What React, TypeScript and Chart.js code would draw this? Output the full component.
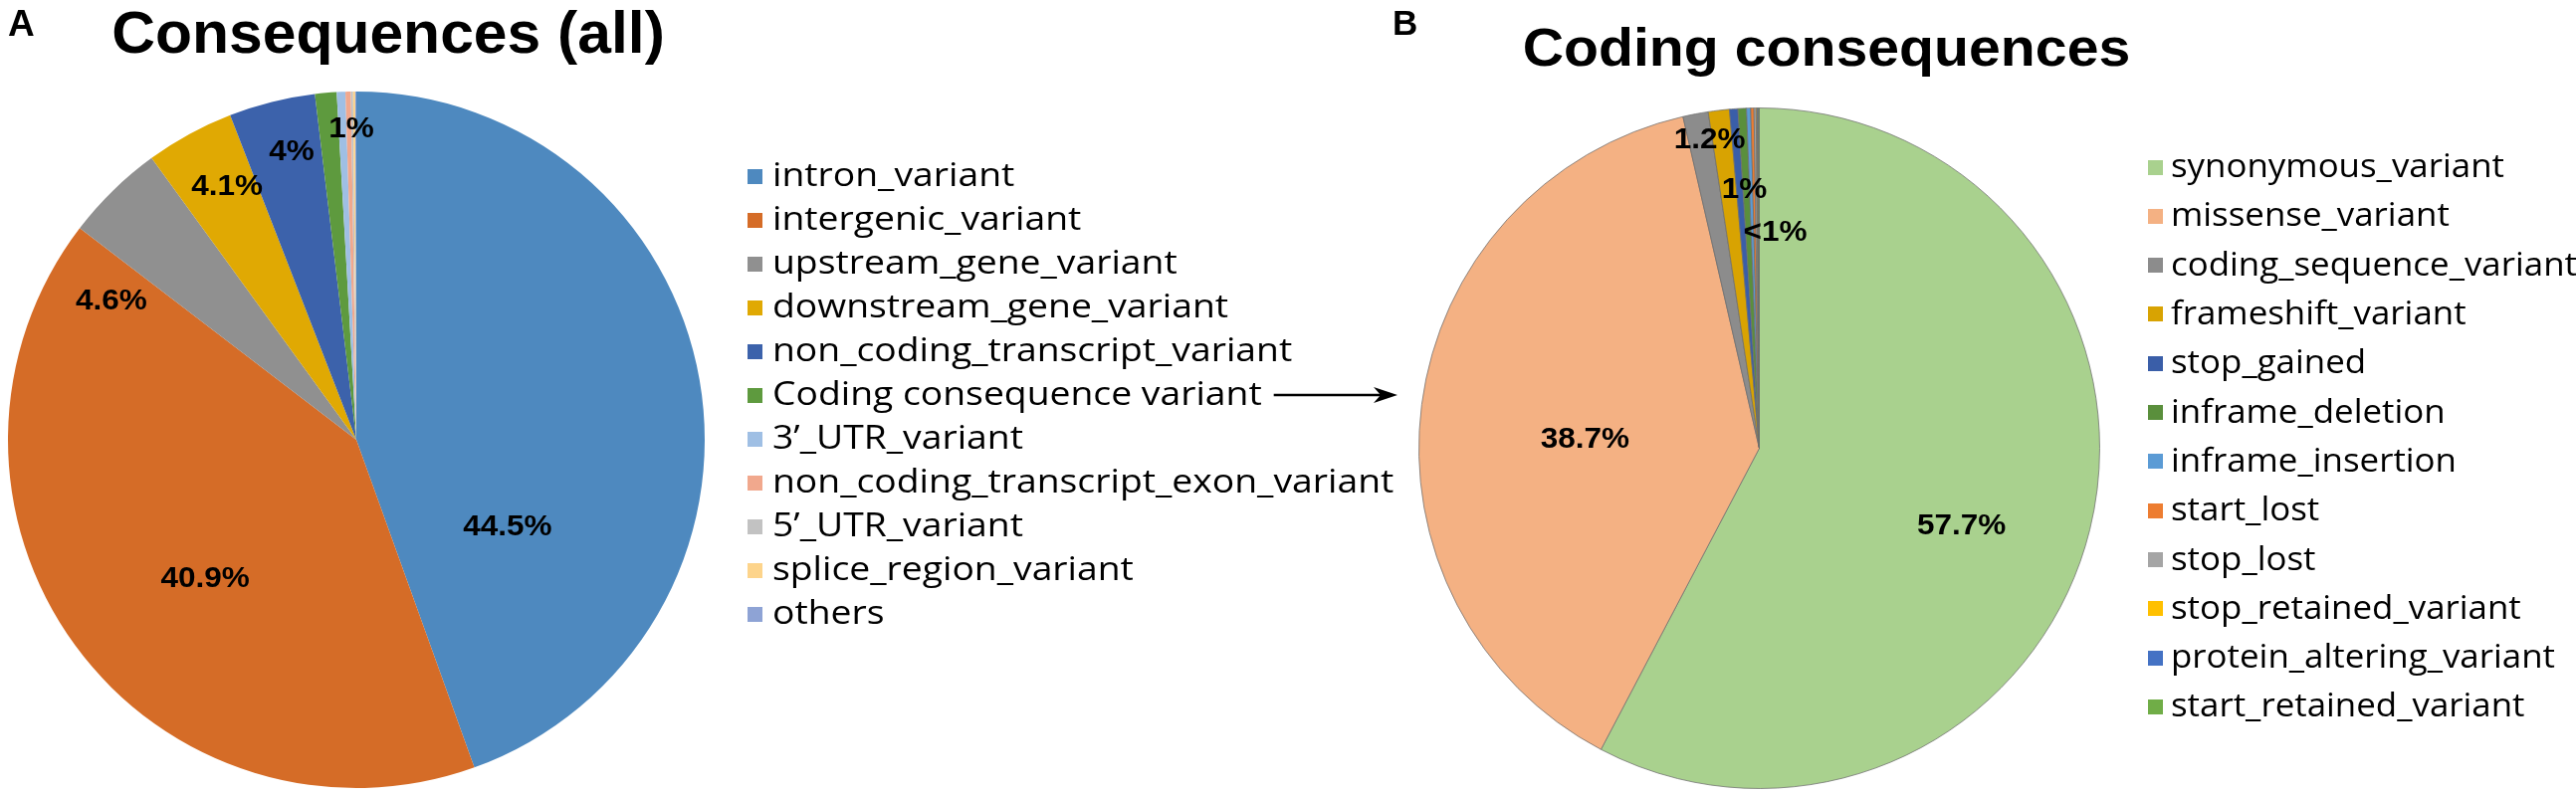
import React, { useEffect, useRef } from "react";
import { Chart, registerables } from "chart.js";

Chart.register(...registerables);

// ---------------- data ----------------
const categoriesA = [
  "intron_variant",
  "intergenic_variant",
  "upstream_gene_variant",
  "downstream_gene_variant",
  "non_coding_transcript_variant",
  "Coding consequence variant",
  "3’_UTR_variant",
  "non_coding_transcript_exon_variant",
  "5’_UTR_variant",
  "splice_region_variant",
  "others",
];
const valuesA = [44.5, 40.9, 4.6, 4.1, 4.0, 1.0, 0.4, 0.25, 0.1, 0.1, 0.05];
const sliceLabelsA = ["44.5%", "40.9%", "4.6%", "4.1%", "4%", "1%", "", "", "", "", ""];

const categoriesB = [
  "synonymous_variant",
  "missense_variant",
  "coding_sequence_variant",
  "frameshift_variant",
  "stop_gained",
  "inframe_deletion",
  "inframe_insertion",
  "start_lost",
  "stop_lost",
  "stop_retained_variant",
  "protein_altering_variant",
  "start_retained_variant",
];
const valuesB = [57.7, 38.7, 1.2, 1.0, 0.4, 0.4, 0.2, 0.15, 0.1, 0.05, 0.05, 0.05];
const sliceLabelsB = ["57.7%", "38.7%", "1.2%", "1%", "<1%", "", "", "", "", "", "", ""];

// ---------------- styles ----------------
const colorsA = [
  "#4e89bf", "#d56c27", "#909090", "#e0a903", "#3c62ab", "#5e9a3e",
  "#9fbfe4", "#f1a88d", "#c2c2c2", "#fdd48b", "#8ea3d5",
];
const colorsB = [
  "#a9d18e", "#f4b183", "#8c8c8c", "#d8a302", "#3a5ea8", "#5a8f3c",
  "#5b9bd5", "#ed7d31", "#a5a5a5", "#ffc000", "#4472c4", "#70ad47",
];

type Panel = {
  key: string;
  letter: string;
  letterX: number;
  letterY: number;
  letterSize: number;
  title: string;
  titleX: number;
  titleY: number;
  titleSize: number;
  titleScaleX: number;
  swatchX: number;
  textX: number;
  legendTop: number;
  legendStep: number;
  swatch: number;
  legendFont: number;
  legendScaleX: number;
  labelSize: number;
  labelOffsets: number[][];
  arrowRow: number;
  arrowEndX: number;
  left: number;
  width: number;
  padding: { left: number; top: number; right: number; bottom: number };
  borderWidth: number;
  borderColor: string;
};

const panelA: Panel = {
  key: "A",
  letter: "A",
  letterX: 8,
  letterY: 36,
  letterSize: 37,
  title: "Consequences (all)",
  titleX: 390,
  titleY: 53,
  titleSize: 60,
  titleScaleX: 1.01,
  swatchX: 751,
  textX: 776,
  legendTop: 177,
  legendStep: 44,
  swatch: 15,
  legendFont: 33,
  legendScaleX: 1.13,
  labelSize: 30,
  labelOffsets: [
    [0.434, 0.251],
    [-0.434, 0.4],
    [-0.703, -0.397],
    [-0.371, -0.726],
    [-0.186, -0.826],
    [-0.014, -0.891],
  ],
  arrowRow: 5,
  arrowEndX: 1404,
  left: 0,
  width: 1420,
  padding: { left: 8, top: 92, right: 712, bottom: 9 },
  borderWidth: 0,
  borderColor: "#ffffff",
};

const panelB: Panel = {
  key: "B",
  letter: "B",
  letterX: 19,
  letterY: 35,
  letterSize: 35,
  title: "Coding consequences",
  titleX: 455,
  titleY: 66,
  titleSize: 54,
  titleScaleX: 1.06,
  swatchX: 778,
  textX: 801,
  legendTop: 168,
  legendStep: 49.3,
  swatch: 15,
  legendFont: 32,
  legendScaleX: 1.09,
  labelSize: 30,
  labelOffsets: [
    [0.594, 0.228],
    [-0.512, -0.026],
    [-0.146, -0.906],
    [-0.044, -0.76],
    [0.047, -0.635],
  ],
  arrowRow: -1,
  arrowEndX: 0,
  left: 1380,
  width: 1208,
  padding: { left: 45, top: 108, right: 478, bottom: 8 },
  borderWidth: 1,
  borderColor: "rgba(110,110,110,0.75)",
};

function makeDecor(p: Panel, sliceLabels: string[]) {
  return {
    id: "decor" + p.key,
    afterDraw(chart: any) {
      const ctx: CanvasRenderingContext2D = chart.ctx;
      ctx.save();
      ctx.fillStyle = "#000";
      ctx.textBaseline = "alphabetic";

      // panel letter
      ctx.font = `bold ${p.letterSize}px "Liberation Sans", Arial, sans-serif`;
      ctx.textAlign = "left";
      ctx.fillText(p.letter, p.letterX, p.letterY);

      // title
      ctx.save();
      ctx.font = `bold ${p.titleSize}px "Liberation Sans", Arial, sans-serif`;
      ctx.translate(p.titleX, p.titleY);
      ctx.scale(p.titleScaleX, 1);
      ctx.textAlign = "center";
      ctx.fillText(p.title, 0, 0);
      ctx.restore();

      // slice labels, placed relative to the arc geometry
      const meta = chart.getDatasetMeta(0);
      ctx.font = `bold ${p.labelSize}px "Liberation Sans", Arial, sans-serif`;
      ctx.textAlign = "center";
      ctx.textBaseline = "middle";
      meta.data.forEach((arc: any, i: number) => {
        const txt = sliceLabels[i];
        const off = p.labelOffsets[i];
        if (!txt || !off) return;
        const r = arc.outerRadius;
        const lx = arc.x + off[0] * r;
        const ly = arc.y + off[1] * r;
        ctx.save();
        ctx.translate(lx, ly);
        ctx.scale(1.05, 1);
        ctx.fillText(txt, 0, 0);
        ctx.restore();
      });

      // legend
      const labels: string[] = chart.data.labels;
      const bg: string[] = chart.data.datasets[0].backgroundColor;
      ctx.font = `${p.legendFont}px "Open Sans", "DejaVu Sans", sans-serif`;
      ctx.textAlign = "left";
      ctx.textBaseline = "middle";
      labels.forEach((lab, i) => {
        const y = p.legendTop + i * p.legendStep;
        ctx.fillStyle = bg[i];
        ctx.fillRect(p.swatchX, Math.round(y - p.swatch / 2), p.swatch, p.swatch);
        ctx.fillStyle = "#000";
        ctx.save();
        ctx.translate(p.textX, y + 1);
        ctx.scale(p.legendScaleX, 1);
        ctx.fillText(lab, 0, 0);
        ctx.restore();
        if (i === p.arrowRow) {
          const w = ctx.measureText(lab).width * p.legendScaleX;
          const x1 = p.textX + w + 12;
          const x2 = p.arrowEndX;
          ctx.strokeStyle = "#000";
          ctx.lineWidth = 2.5;
          ctx.beginPath();
          ctx.moveTo(x1, y);
          ctx.lineTo(x2 - 12, y);
          ctx.stroke();
          ctx.beginPath();
          ctx.moveTo(x2, y);
          ctx.lineTo(x2 - 24, y - 8);
          ctx.lineTo(x2 - 17, y);
          ctx.lineTo(x2 - 24, y + 8);
          ctx.closePath();
          ctx.fill();
        }
      });
      ctx.restore();
    },
  };
}

function PiePanel(props: {
  panel: Panel;
  categories: string[];
  values: number[];
  colors: string[];
  sliceLabels: string[];
}) {
  const ref = useRef<HTMLCanvasElement | null>(null);
  const { panel, categories, values, colors, sliceLabels } = props;
  useEffect(() => {
    if (!ref.current) return;
    const chart = new Chart(ref.current, {
      type: "pie",
      data: {
        labels: categories,
        datasets: [
          {
            data: values,
            backgroundColor: colors,
            borderWidth: panel.borderWidth,
            borderColor: panel.borderColor,
            hoverOffset: 0,
          },
        ],
      },
      options: {
        responsive: false,
        animation: false,
        devicePixelRatio: 1,
        layout: { padding: panel.padding },
        plugins: {
          legend: { display: false },
          tooltip: { enabled: false },
          title: { display: false },
        },
      },
      plugins: [makeDecor(panel, sliceLabels)],
    } as any);
    return () => chart.destroy();
  }, []);
  return (
    <canvas
      ref={ref}
      width={panel.width}
      height={801}
      style={{ position: "absolute", left: panel.left, top: 0, width: panel.width, height: 801 }}
    />
  );
}

export default function App() {
  return (
    <div
      style={{
        position: "absolute",
        left: 0,
        top: 0,
        width: 2588,
        height: 801,
        background: "#ffffff",
        overflow: "hidden",
      }}
    >
      <PiePanel panel={panelA} categories={categoriesA} values={valuesA} colors={colorsA} sliceLabels={sliceLabelsA} />
      <PiePanel panel={panelB} categories={categoriesB} values={valuesB} colors={colorsB} sliceLabels={sliceLabelsB} />
    </div>
  );
}
